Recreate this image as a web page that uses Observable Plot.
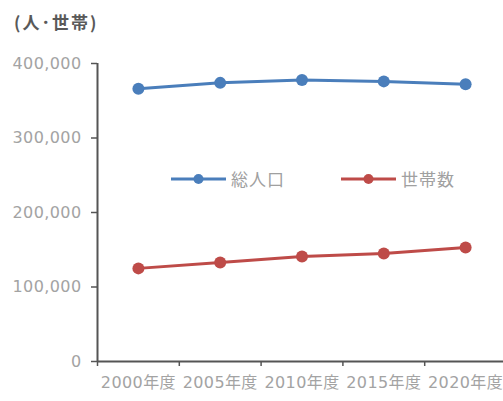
<!DOCTYPE html>
<html>
<head>
<meta charset="utf-8">
<script src="https://cdn.jsdelivr.net/npm/d3@7"></script>
<script src="https://cdn.jsdelivr.net/npm/@observablehq/plot@0.6"></script>
<style>
  html, body { margin: 0; padding: 0; background: #fff; }
  body { width: 503px; height: 401px; position: relative; overflow: hidden;
         font-family: "DejaVu Sans", "Noto Sans CJK JP", sans-serif; }
  #title { position: absolute; left: 14px; top: 9px; font-size: 17px; font-weight: bold; color: #595959;
           letter-spacing: 2px; font-family: "Noto Sans CJK JP", sans-serif; }
  #legend { position: absolute; left: 0; top: 0; width: 503px; height: 401px; pointer-events: none; }
  .item { position: absolute; display: flex; align-items: center; font-size: 17px; color: #a0a0a0;
          letter-spacing: 1px; font-family: "Noto Sans CJK JP", sans-serif; }
  .item svg { margin-right: 4px; }
  #chart { position: absolute; left: 0; top: 0; }
  #chart svg text { font-family: "DejaVu Sans", "Noto Sans CJK JP", sans-serif !important; }
</style>
</head>
<body>
<div id="chart"></div>
<div id="title">(人･世帯)</div>
<div id="legend"></div>
<script>
const years = ["2000年度", "2005年度", "2010年度", "2015年度", "2020年度"];
const population = [366000, 374000, 378000, 376000, 372000];
const households = [125000, 133000, 141000, 145000, 153000];
const yTicks = [0, 100000, 200000, 300000, 400000];
const seriesNames = ["総人口", "世帯数"];
const seriesColors = ["#4a7ebb", "#be4b48"];

const data = years.flatMap((label, i) => [
  {i, series: seriesNames[0], value: population[i]},
  {i, series: seriesNames[1], value: households[i]}
]);

const axisColor = "#555555";
const textColor = "#a3a3a3";

const chart = Plot.plot({
  width: 503,
  height: 401,
  marginTop: 63,
  marginBottom: 40,
  marginLeft: 97,
  marginRight: -3,
  style: {background: "transparent", letterSpacing: "0.4px"},
  x: {domain: [-0.5, years.length - 0.5]},
  y: {domain: [0, 400000]},
  color: {domain: seriesNames, range: seriesColors},
  marks: [
    Plot.axisY({ticks: yTicks, tickFormat: d3.format(","), tickSize: 6, tickPadding: 10,
                stroke: axisColor, fill: textColor, fontSize: 16, label: null, strokeWidth: 1.5}),
    Plot.axisX({ticks: d3.range(-0.5, years.length, 1), tickFormat: () => "", tickSize: 5,
                stroke: axisColor, strokeWidth: 1.5, label: null}),
    Plot.axisX({ticks: d3.range(years.length), tickFormat: i => years[i], tickSize: 0, tickPadding: 15,
                fill: textColor, fontSize: 16, label: null}),
    Plot.ruleY([0], {stroke: axisColor, strokeWidth: 2}),
    Plot.ruleX([-0.5], {stroke: axisColor, strokeWidth: 2}),
    Plot.line(data, {x: "i", y: "value", z: "series", stroke: "series", strokeWidth: 3}),
    Plot.dot(data, {x: "i", y: "value", fill: "series", r: 6})
  ]
});
document.getElementById("chart").append(chart);

// legend overlay
const legendPos = [{left: 170, top: 166}, {left: 340, top: 166}];
const legend = document.getElementById("legend");
seriesNames.forEach((name, k) => {
  const div = document.createElement("div");
  div.className = "item";
  div.style.left = legendPos[k].left + "px";
  div.style.top = legendPos[k].top + "px";
  div.innerHTML = `<svg width="57" height="18"><line x1="1" x2="56" y1="9" y2="9" stroke="${seriesColors[k]}" stroke-width="3"/><circle cx="28.5" cy="9" r="5" fill="${seriesColors[k]}"/></svg><span>${name}</span>`;
  legend.append(div);
});
</script>
</body>
</html>
